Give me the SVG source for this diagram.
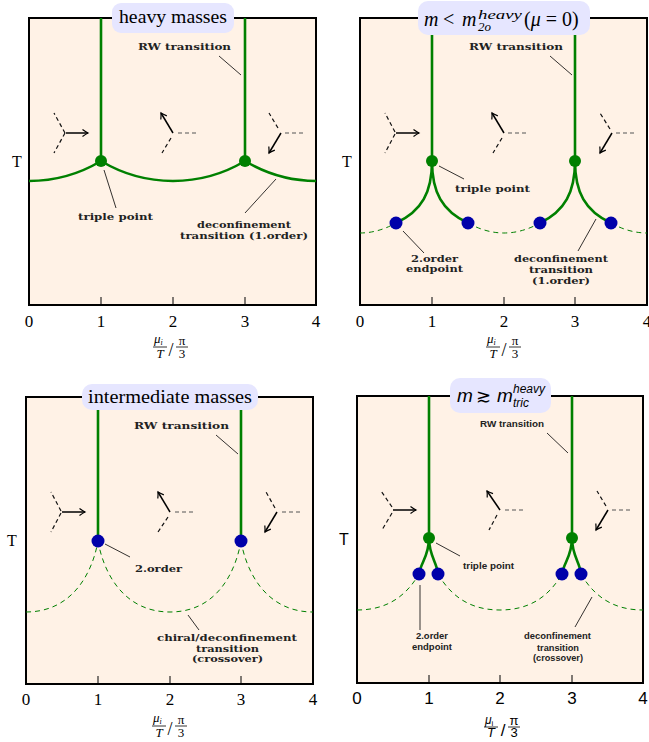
<svg xmlns="http://www.w3.org/2000/svg" xmlns:xlink="http://www.w3.org/1999/xlink" width="649" height="742" viewBox="0 0 649 742">
<style>
.frame{fill:#fff2e6;stroke:#000;stroke-width:2}
.rw{stroke:#008000;stroke-width:2.6;fill:none}
.dsh{stroke:#008000;stroke-width:1;stroke-dasharray:5 4;fill:none}
.tp{fill:#008000}
.ep{fill:#0000aa}
.lead{stroke:#000;stroke-width:0.8;fill:none}
.tick{stroke:#000;stroke-width:1}
.ttl{fill:#e6e6ff;stroke:none}
.ser{font-family:"Liberation Serif","DejaVu Serif",serif;fill:#000}
.san{font-family:"Liberation Sans","DejaVu Sans",sans-serif;fill:#000}
.lbl{font-family:"DejaVu Serif","Liberation Serif",serif;font-weight:bold;font-size:9.5px;fill:#222}
.lbs{font-family:"Liberation Sans","DejaVu Sans",sans-serif;font-weight:bold;font-size:9.5px;fill:#222}
.num{font-size:17px;text-anchor:middle}
.arr{stroke:#000;stroke-width:1.5;fill:none;marker-end:url(#ah)}
.idl{stroke:#111;stroke-width:1.2;stroke-dasharray:4 3;fill:none}
.idr{stroke:#555;stroke-width:1.2;stroke-dasharray:4 3;fill:none}
</style>
<defs>
<marker id="ah" markerWidth="10" markerHeight="10" refX="7" refY="5" orient="auto" markerUnits="userSpaceOnUse">
<path d="M1.5,1.5 Q5,4 7,5 Q5,6 1.5,8.5" fill="none" stroke="#000" stroke-width="1.2"/>
</marker>
<g id="fracSerif" class="ser">
<text x="-17" y="-4" font-size="13" font-style="italic">μ<tspan font-size="8" dy="2" font-style="italic">i</tspan></text>
<line x1="-18" y1="0" x2="-4" y2="0" stroke="#000" stroke-width="0.8"/>
<text x="-11" y="11" font-size="13" font-style="italic" text-anchor="middle">T</text>
<text x="0" y="9" font-size="18" text-anchor="middle">/</text>
<text x="11" y="-2" font-size="13" text-anchor="middle">π</text>
<line x1="5" y1="0" x2="17" y2="0" stroke="#000" stroke-width="0.8"/>
<text x="11" y="11" font-size="13" text-anchor="middle">3</text>
</g>
<g id="fracSans" class="san">
<text x="-18" y="-3" font-size="12" font-style="italic">μ<tspan font-size="8" dy="2" font-style="normal">i</tspan></text>
<line x1="-19" y1="0" x2="-5" y2="0" stroke="#000" stroke-width="0.8"/>
<text x="-12" y="10" font-size="13" font-style="italic" text-anchor="middle">T</text>
<text x="0" y="9" font-size="17" text-anchor="middle">/</text>
<text x="11" y="-2" font-size="13" text-anchor="middle">π</text>
<line x1="5" y1="0" x2="17" y2="0" stroke="#000" stroke-width="0.8"/>
<text x="11" y="10" font-size="13" text-anchor="middle">3</text>
</g>
</defs>
<rect width="649" height="742" fill="#fff"/>

<!-- ================= Panel 1 ================= -->
<g id="panel1">
<rect class="frame" x="29" y="18" width="287" height="287"/>
<g id="p1-icons">
<line class="idl" x1="65" y1="133" x2="54" y2="113"/>
<line class="idl" x1="65" y1="133" x2="54" y2="153"/>
<line class="arr" x1="66" y1="133" x2="88" y2="133"/>
<line class="arr" x1="173" y1="133" x2="161" y2="113"/>
<line class="idr" x1="178" y1="133" x2="197" y2="133"/>
<line class="idl" x1="171" y1="138" x2="162" y2="153"/>
<line class="idr" x1="285" y1="133" x2="304" y2="133"/>
<line class="idl" x1="278" y1="128" x2="269" y2="113"/>
<line class="arr" x1="281" y1="133" x2="269" y2="153"/>
</g>
<g id="p1-connectors">
<path class="rw" d="M29,181 A140,140 0 0 0 101,161 A140,140 0 0 0 245,161 A140,140 0 0 0 316,181"/>
<line class="rw" x1="101" y1="18" x2="101" y2="161"/>
<line class="rw" x1="245" y1="18" x2="245" y2="161"/>
<line class="lead" x1="219" y1="56" x2="241" y2="75"/>
<line class="lead" x1="104" y1="170" x2="116" y2="208"/>
<line class="lead" x1="276" y1="179" x2="245" y2="213"/>
<line class="tick" x1="101" y1="297" x2="101" y2="305"/>
<line class="tick" x1="173" y1="297" x2="173" y2="305"/>
<line class="tick" x1="245" y1="297" x2="245" y2="305"/>
</g>
<g id="p1-triple1"><circle class="tp" cx="101" cy="161" r="6"/></g>
<g id="p1-triple2"><circle class="tp" cx="245" cy="161" r="6"/></g>
<g id="p1-title">
<rect class="ttl" x="112" y="3" width="122" height="30" rx="9"/>
<text class="ser" x="119" y="23" font-size="18" textLength="108" lengthAdjust="spacingAndGlyphs">heavy masses</text>
</g>
<text class="lbl" x="138" y="50" textLength="93" lengthAdjust="spacingAndGlyphs">RW transition</text>
<text class="lbl" x="78" y="220" textLength="75" lengthAdjust="spacingAndGlyphs">triple point</text>
<text class="lbl" x="197" y="228" textLength="94" lengthAdjust="spacingAndGlyphs">deconfinement</text>
<text class="lbl" x="180" y="239" textLength="128" lengthAdjust="spacingAndGlyphs">transition (1.order)</text>
<text class="ser" x="17" y="167" font-size="16" text-anchor="middle">T</text>
<g class="ser num">
<text x="29" y="327">0</text><text x="101" y="327">1</text><text x="173" y="327">2</text><text x="245" y="327">3</text><text x="316" y="327">4</text>
</g>
<use xlink:href="#fracSerif" x="171" y="347"/>
</g>

<!-- ================= Panel 2 ================= -->
<g id="panel2">
<rect class="frame" x="360" y="18" width="287" height="287"/>
<g id="p2-icons">
<line class="idl" x1="395" y1="132" x2="385" y2="113"/>
<line class="idl" x1="395" y1="134" x2="385" y2="153"/>
<line class="arr" x1="396" y1="133" x2="419" y2="133"/>
<line class="arr" x1="504" y1="133" x2="492" y2="113"/>
<line class="idr" x1="508" y1="133" x2="527" y2="133"/>
<line class="idl" x1="502" y1="138" x2="493" y2="153"/>
<line class="idr" x1="616" y1="133" x2="635" y2="133"/>
<line class="idl" x1="610" y1="129" x2="600" y2="113"/>
<line class="arr" x1="612" y1="133" x2="600" y2="153"/>
</g>
<g id="p2-connectors">
<path class="dsh" d="M360,233 Q378,233 396,223"/>
<path class="dsh" d="M468,223 Q486,233 504,233 T540,223"/>
<path class="dsh" d="M611,223 Q629,233 647,233"/>
<path class="rw" d="M432,161 C432,192 422,211 396,223"/>
<path class="rw" d="M432,161 C432,192 442,211 468,223"/>
<path class="rw" d="M575,161 C575,192 565,211 540,223"/>
<path class="rw" d="M575,161 C575,192 585,211 611,223"/>
<line class="rw" x1="432" y1="18" x2="432" y2="161"/>
<line class="rw" x1="575" y1="18" x2="575" y2="161"/>
<line class="lead" x1="550" y1="56" x2="572" y2="75"/>
<line class="lead" x1="439" y1="166" x2="464" y2="179"/>
<line class="lead" x1="403" y1="231" x2="424" y2="253"/>
<line class="lead" x1="596" y1="219" x2="578" y2="251"/>
<line class="tick" x1="432" y1="297" x2="432" y2="305"/>
<line class="tick" x1="504" y1="297" x2="504" y2="305"/>
<line class="tick" x1="575" y1="297" x2="575" y2="305"/>
</g>
<g id="p2-triple1"><circle class="tp" cx="432" cy="161" r="6"/></g>
<g id="p2-triple2"><circle class="tp" cx="575" cy="161" r="6"/></g>
<g id="p2-end1"><circle class="ep" cx="396" cy="223" r="6.5"/></g>
<g id="p2-end2"><circle class="ep" cx="468" cy="223" r="6.5"/></g>
<g id="p2-end3"><circle class="ep" cx="540" cy="223" r="6.5"/></g>
<g id="p2-end4"><circle class="ep" cx="611" cy="223" r="6.5"/></g>
<g id="p2-title">
<rect class="ttl" x="418" y="1" width="172" height="34" rx="10"/>
<text class="ser" x="424" y="26" font-size="20" font-style="italic">m</text>
<text class="ser" x="443" y="26" font-size="20">&lt;</text>
<text class="ser" x="462" y="26" font-size="20" font-style="italic">m</text>
<text class="ser" x="478" y="19" font-size="13" font-style="italic" textLength="44" lengthAdjust="spacingAndGlyphs">heavy</text>
<text class="ser" x="478" y="31" font-size="13" font-style="italic">2o</text>
<text class="ser" x="524" y="26" font-size="20">(<tspan font-style="italic">μ</tspan> = 0)</text>
</g>
<text class="lbl" x="469" y="50" textLength="94" lengthAdjust="spacingAndGlyphs">RW transition</text>
<text class="lbl" x="455" y="192" textLength="75" lengthAdjust="spacingAndGlyphs">triple point</text>
<text class="lbl" x="411" y="262" textLength="47" lengthAdjust="spacingAndGlyphs">2.order</text>
<text class="lbl" x="406" y="272" textLength="57" lengthAdjust="spacingAndGlyphs">endpoint</text>
<text class="lbl" x="514" y="262" textLength="94" lengthAdjust="spacingAndGlyphs">deconfinement</text>
<text class="lbl" x="529" y="273" textLength="64" lengthAdjust="spacingAndGlyphs">transition</text>
<text class="lbl" x="532" y="284" textLength="58" lengthAdjust="spacingAndGlyphs">(1.order)</text>
<text class="ser" x="347" y="167" font-size="16" text-anchor="middle">T</text>
<g class="ser num">
<text x="360" y="327">0</text><text x="432" y="327">1</text><text x="504" y="327">2</text><text x="575" y="327">3</text><text x="647" y="327">4</text>
</g>
<use xlink:href="#fracSerif" x="504" y="347"/>
</g>

<!-- ================= Panel 3 ================= -->
<g id="panel3">
<rect class="frame" x="26" y="397" width="287" height="287"/>
<g id="p3-icons">
<line class="idl" x1="61" y1="511" x2="51" y2="492"/>
<line class="idl" x1="61" y1="513" x2="51" y2="532"/>
<line class="arr" x1="62" y1="512" x2="85" y2="512"/>
<line class="arr" x1="170" y1="512" x2="158" y2="492"/>
<line class="idr" x1="175" y1="512" x2="194" y2="512"/>
<line class="idl" x1="168" y1="517" x2="158" y2="532"/>
<line class="idr" x1="282" y1="512" x2="302" y2="512"/>
<line class="idl" x1="275" y1="508" x2="266" y2="492"/>
<line class="arr" x1="277" y1="512" x2="265" y2="532"/>
</g>
<g id="p3-connectors">
<path class="dsh" d="M26,612 C71,612 92,575 98,541"/>
<path class="dsh" d="M98,541 C104,575 125,612 170,612 C215,612 235,575 241,541"/>
<path class="dsh" d="M241,541 C247,575 268,612 313,612"/>
<line class="rw" x1="98" y1="397" x2="98" y2="541"/>
<line class="rw" x1="241" y1="397" x2="241" y2="541"/>
<line class="lead" x1="216" y1="435" x2="238" y2="454"/>
<line class="lead" x1="105" y1="544" x2="130" y2="557"/>
<line class="lead" x1="188" y1="615" x2="199" y2="630"/>
<line class="tick" x1="98" y1="676" x2="98" y2="684"/>
<line class="tick" x1="170" y1="676" x2="170" y2="684"/>
<line class="tick" x1="241" y1="676" x2="241" y2="684"/>
</g>
<g id="p3-end1"><circle class="ep" cx="98" cy="541" r="6.5"/></g>
<g id="p3-end2"><circle class="ep" cx="241" cy="541" r="6.5"/></g>
<g id="p3-title">
<rect class="ttl" x="82" y="384" width="176" height="26" rx="10"/>
<text class="ser" x="88" y="403" font-size="18" textLength="164" lengthAdjust="spacingAndGlyphs">intermediate masses</text>
</g>
<text class="lbl" x="134" y="429" textLength="95" lengthAdjust="spacingAndGlyphs">RW transition</text>
<text class="lbl" x="135" y="572" textLength="47" lengthAdjust="spacingAndGlyphs">2.order</text>
<text class="lbl" x="157" y="641" textLength="140" lengthAdjust="spacingAndGlyphs">chiral/deconfinement</text>
<text class="lbl" x="196" y="652" textLength="63" lengthAdjust="spacingAndGlyphs">transition</text>
<text class="lbl" x="192" y="662" textLength="71" lengthAdjust="spacingAndGlyphs">(crossover)</text>
<text class="ser" x="12" y="546" font-size="16" text-anchor="middle">T</text>
<g class="ser num">
<text x="26" y="705">0</text><text x="98" y="705">1</text><text x="170" y="705">2</text><text x="241" y="705">3</text><text x="313" y="705">4</text>
</g>
<use xlink:href="#fracSerif" x="170" y="726"/>
</g>

<!-- ================= Panel 4 ================= -->
<g id="panel4">
<rect class="frame" x="357" y="396" width="286" height="287"/>
<g id="p4-icons">
<line class="idl" x1="392" y1="507" x2="381" y2="491"/>
<line class="idl" x1="392" y1="513" x2="382" y2="530"/>
<line class="arr" x1="393" y1="510" x2="416" y2="510"/>
<line class="arr" x1="500" y1="510" x2="487" y2="491"/>
<line class="idr" x1="505" y1="510" x2="524" y2="510"/>
<line class="idl" x1="497" y1="515" x2="489" y2="530"/>
<line class="idr" x1="612" y1="510" x2="631" y2="510"/>
<line class="idl" x1="606" y1="506" x2="597" y2="491"/>
<line class="arr" x1="608" y1="510" x2="596" y2="530"/>
</g>
<g id="p4-connectors">
<path class="dsh" d="M357,610 C385,610 405,598 419,574"/>
<path class="dsh" d="M438,574 C452,598 472,610 500,610 C528,610 548,598 562,574"/>
<path class="dsh" d="M581,574 C595,598 615,610 643,610"/>
<path class="rw" d="M429,538 C429,556 421,562 419,574"/>
<path class="rw" d="M429,538 C429,556 437,562 438,574"/>
<path class="rw" d="M572,538 C572,556 564,562 562,574"/>
<path class="rw" d="M572,538 C572,556 580,562 581,574"/>
<line class="rw" x1="429" y1="396" x2="429" y2="538"/>
<line class="rw" x1="572" y1="396" x2="572" y2="538"/>
<line class="lead" x1="547" y1="433" x2="568" y2="453"/>
<line class="lead" x1="436" y1="543" x2="460" y2="556"/>
<line class="lead" x1="420" y1="585" x2="420" y2="630"/>
<line class="lead" x1="592" y1="597" x2="575" y2="627"/>
<line class="tick" x1="429" y1="675" x2="429" y2="683"/>
<line class="tick" x1="500" y1="675" x2="500" y2="683"/>
<line class="tick" x1="572" y1="675" x2="572" y2="683"/>
</g>
<g id="p4-triple1"><circle class="tp" cx="429" cy="538" r="6"/></g>
<g id="p4-triple2"><circle class="tp" cx="572" cy="538" r="6"/></g>
<g id="p4-end1"><circle class="ep" cx="419" cy="574" r="6.5"/></g>
<g id="p4-end2"><circle class="ep" cx="438" cy="574" r="6.5"/></g>
<g id="p4-end3"><circle class="ep" cx="562" cy="574" r="6.5"/></g>
<g id="p4-end4"><circle class="ep" cx="581" cy="574" r="6.5"/></g>
<g id="p4-title">
<rect class="ttl" x="450" y="378" width="101" height="35" rx="10"/>
<text class="san" x="457" y="402" font-size="19" font-style="italic">m</text>
<text class="san" x="476" y="402" font-size="18">≳</text>
<text class="san" x="497" y="402" font-size="19" font-style="italic">m</text>
<text class="san" x="513" y="393" font-size="12" font-style="italic">heavy</text>
<text class="san" x="513" y="407" font-size="12" font-style="italic">tric</text>
</g>
<text class="lbs" x="480" y="427" textLength="64" lengthAdjust="spacingAndGlyphs">RW transition</text>
<text class="lbs" x="463" y="569" textLength="51" lengthAdjust="spacingAndGlyphs">triple point</text>
<text class="lbs" x="416" y="639" textLength="32" lengthAdjust="spacingAndGlyphs">2.order</text>
<text class="lbs" x="412" y="650" textLength="40" lengthAdjust="spacingAndGlyphs">endpoint</text>
<text class="lbs" x="524" y="639" textLength="67" lengthAdjust="spacingAndGlyphs">deconfinement</text>
<text class="lbs" x="537" y="651" textLength="42" lengthAdjust="spacingAndGlyphs">transition</text>
<text class="lbs" x="533" y="661" textLength="50" lengthAdjust="spacingAndGlyphs">(crossover)</text>
<text class="san" x="344" y="545" font-size="16" text-anchor="middle">T</text>
<g class="san num">
<text x="357" y="704">0</text><text x="429" y="704">1</text><text x="500" y="704">2</text><text x="572" y="704">3</text><text x="643" y="704">4</text>
</g>
<use xlink:href="#fracSans" x="503" y="727"/>
</g>
</svg>
